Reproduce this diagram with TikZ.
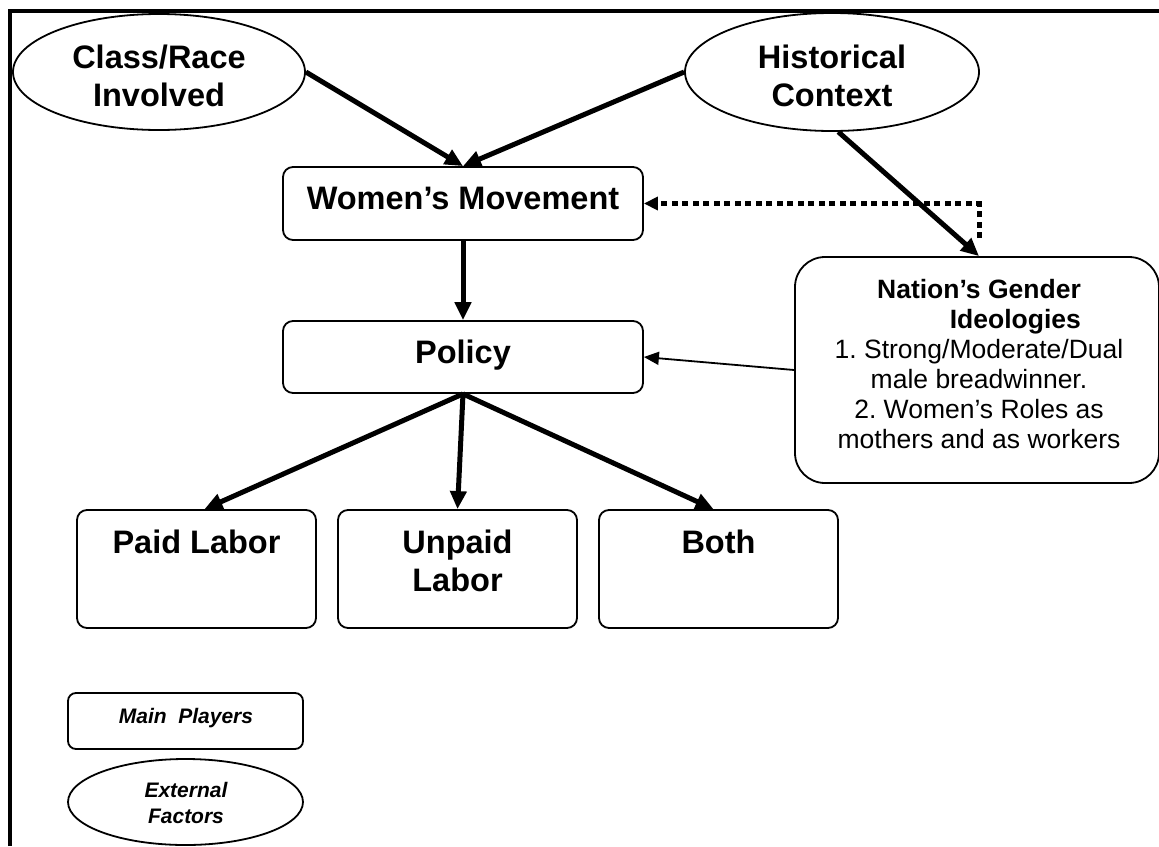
\documentclass[tikz,border=0pt]{standalone}
\usepackage{fontspec}
\setmainfont{Liberation Sans}
\usetikzlibrary{shapes.geometric,arrows.meta}
\newcommand\mlines[1]{\begin{tabular}[t]{@{}c@{}}#1\end{tabular}}
\frenchspacing
\begin{document}
\begin{tikzpicture}[x=1pt,y=-1pt,
  box/.style={draw,line width=1.8pt,rounded corners=10pt,inner sep=0pt},
  oval/.style={draw,line width=1.8pt,ellipse,inner sep=0pt},
  big/.style={font=\fontsize{32.5}{38}\selectfont\bfseries,inner sep=0pt,anchor=base},
  mid/.style={font=\fontsize{26.5}{30}\selectfont,inner sep=0pt,anchor=base},
  small/.style={font=\fontsize{21}{26}\selectfont\bfseries\itshape,inner sep=0pt,anchor=base},
  thickarr/.style={line width=5pt,-{Triangle[length=18pt,width=16pt]}},
  thinarr/.style={line width=1.8pt,-{Triangle[length=15pt,width=13pt]}},
  dotarr/.style={line width=5pt,dash pattern=on 6pt off 4.5pt,-{Triangle[length=14pt,width=13pt]}}
]
\useasboundingbox (0,0) rectangle (1159,846);
\fill[white] (0,0) rectangle (1159,846);
% frame
\draw[line width=4.5pt] (10,846) -- (10,11) -- (1159,11);

% external factors
\node[oval,minimum width=292pt,minimum height=116pt] (cls) at (159,72) {};
\node[big] (clsT) at (159,68) {\mlines{Class/Race\\Involved}};
\node[oval,minimum width=294pt,minimum height=118pt] (hist) at (832,72) {};
\node[big] (histT) at (832,68) {\mlines{Historical\\Context}};

% main players
\node[box,minimum width=360pt,minimum height=73pt] (wm) at (463,203.5) {};
\node[big] (wmT) at (463,209) {Women’s Movement};
\node[box,minimum width=360pt,minimum height=72pt] (pol) at (463,357) {};
\node[big] (polT) at (463,363) {Policy};

\node[box,rounded corners=30pt,minimum width=364pt,minimum height=226pt] (nat) at (977,370) {};
\node[mid] (natT) at (979,298) {\mlines{\textbf{Nation’s Gender}\\
  \textbf{\hphantom{Nation’s Gender}\llap{Ideologies}}\\
  1. Strong/Moderate/Dual\\ male breadwinner.\\ 2. Women’s Roles as\\ mothers and as workers}};

\node[box,minimum width=239pt,minimum height=118pt] (paid) at (196.5,569) {};
\node[big] (paidT) at (196.5,553) {Paid Labor};
\node[box,minimum width=239pt,minimum height=118pt] (unp) at (457.5,569) {};
\node[big] (unpT) at (457.5,553) {\mlines{Unpaid\\Labor}};
\node[box,minimum width=239pt,minimum height=118pt] (both) at (718.5,569) {};
\node[big] (bothT) at (718.5,553) {Both};

% legend
\node[box,rounded corners=8pt,minimum width=235pt,minimum height=56pt] (mp) at (185.5,721) {};
\node[small] (mpT) at (186,723) {Main\ \ Players};
\node[oval,minimum width=235pt,minimum height=86pt] (ext) at (185.5,802) {};
\node[small] (extT) at (186,797) {\mlines{External\\Factors}};

% connectors
\draw[thickarr] (cls.east) -- (wm.north);
\draw[thickarr] (hist.west) -- (wm.north);
\draw[thickarr] (hist.-84) -- ([xshift=2pt]nat.north);
\coordinate (dtop) at (979,238);
\draw[dotarr] (dtop) |- (wm.east);
\draw[thickarr] (wm.south) -- (pol.north);
\draw[thinarr] (nat.west) -- (pol.east);
\draw[thickarr] (pol.south) -- ([xshift=8pt]paid.north);
\draw[thickarr] (pol.south) -- (unp.north);
\draw[thickarr] (pol.south) -- ([xshift=-5pt]both.north);
\end{tikzpicture}
\end{document}
